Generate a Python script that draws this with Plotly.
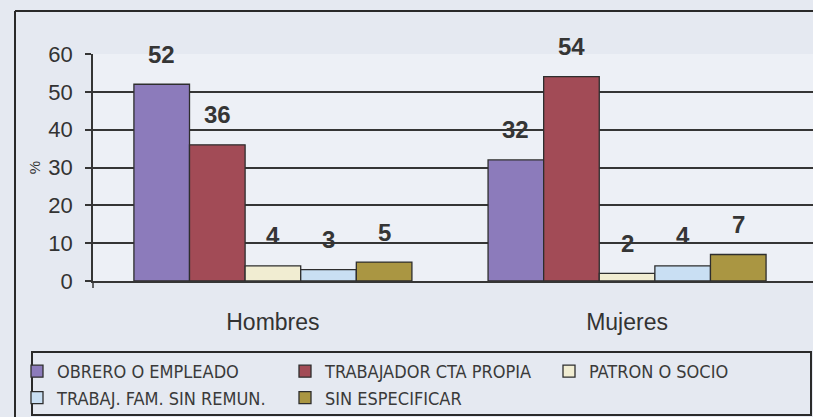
import plotly.graph_objects as go

categories = ["Hombres", "Mujeres"]
series_names = ["OBRERO O EMPLEADO", "TRABAJADOR CTA PROPIA", "PATRON O SOCIO",
                "TRABAJ. FAM. SIN REMUN.", "SIN ESPECIFICAR"]
obrero = [52, 32]
cta_propia = [36, 54]
patron = [4, 2]
fam_sin_remun = [3, 4]
sin_especificar = [5, 7]
y_ticks = [0, 10, 20, 30, 40, 50, 60]

series_values = [obrero, cta_propia, patron, fam_sin_remun, sin_especificar]
colors = ["#8c7bbb", "#a24b56", "#f1edd2", "#c9dff3", "#aa9642"]
legends = ["legend", "legend2", "legend3", "legend", "legend2"]

W, H = 813, 417
L, R, T, B = 93, 0, 54, 136
PW, PH = W - L - R, H - T - B

def px(xp):
    return (xp - L) / PW

def py(yp):
    return (H - B - yp) / PH

BARGAP = 0.215
n = len(series_values)
bw = (1 - BARGAP) / n

fig = go.Figure()
for k, (name, vals, col, lg) in enumerate(zip(series_names, series_values, colors, legends)):
    fig.add_trace(go.Bar(
        x=categories, y=vals, name=name, legend=lg, legendgroup=name,
        marker=dict(color=col, line=dict(color="#2e2e2e", width=1.3)),
    ))
    for i, v in enumerate(vals):
        fig.add_annotation(
            x=i + (k - (n - 1) / 2) * bw, y=v, xref="x", yref="y",
            text="<b>%d</b>" % v, showarrow=False, yshift=30,
            font=dict(family="Liberation Sans, Arial, sans-serif", size=24, color="#353535"),
        )

grid_col = "#353535"
leg_font = dict(family="Liberation Sans Narrow, Arial Narrow, DejaVu Sans Condensed, Liberation Sans, sans-serif",
                size=18, color="#3a3a3a")
leg_common = dict(orientation="v", xanchor="left", yanchor="top", bgcolor="rgba(0,0,0,0)",
                  borderwidth=0, font=leg_font, tracegroupgap=0, itemclick=False)

fig.update_layout(
    width=W, height=H,
    margin=dict(l=L, r=R, t=T, b=B, pad=0),
    paper_bgcolor="#e5e9f1",
    plot_bgcolor="#edf0f6",
    barmode="group", bargap=BARGAP, bargroupgap=0,
    showlegend=True,
    legend=dict(x=px(17), y=py(353), **leg_common),
    legend2=dict(x=px(285), y=py(353), **leg_common),
    legend3=dict(x=px(549), y=py(353), **leg_common),
    xaxis=dict(
        type="category", range=[-0.508, 1.525], showgrid=False,
        showline=True, linecolor=grid_col, linewidth=1.5,
        ticks="", ticklabelstandoff=20,
        tickfont=dict(family="Liberation Sans, Arial, sans-serif", size=23, color="#333333"),
    ),
    yaxis=dict(
        range=[0, 60], tickvals=y_ticks, showgrid=True, gridcolor=grid_col, gridwidth=1.5,
        showline=True, linecolor=grid_col, linewidth=1.5, zeroline=False,
        ticks="outside", ticklen=6, tickcolor=grid_col, tickwidth=1.5,
        ticklabelstandoff=8,
        tickfont=dict(family="Liberation Sans, Arial, sans-serif", size=22, color="#333333"),
        title=dict(text="%", standoff=4, font=dict(family="Liberation Sans, Arial, sans-serif", size=15, color="#333333")),
    ),
    shapes=[
        # outer chart border (left and top edges visible)
        dict(type="line", xref="paper", yref="paper", x0=px(15), x1=px(815), y0=py(11), y1=py(11),
             line=dict(color="#2a2a2a", width=2)),
        dict(type="line", xref="paper", yref="paper", x0=px(15), x1=px(15), y0=py(11), y1=py(420),
             line=dict(color="#2a2a2a", width=2)),
        # legend frame
        dict(type="rect", xref="paper", yref="paper", x0=px(32), x1=px(811), y0=py(352), y1=py(415),
             line=dict(color="#2a2a2a", width=2), fillcolor="rgba(0,0,0,0)"),
        # short tick of the value axis below the zero line
        dict(type="line", xref="paper", yref="paper", x0=0, x1=0, y0=0, y1=py(288),
             line=dict(color=grid_col, width=1.5)),
    ],
)

fig.write_html(
    "out.html",
    config={"displayModeBar": False},
    post_script="document.body.style.margin='0';document.body.style.overflow='hidden';",
)
